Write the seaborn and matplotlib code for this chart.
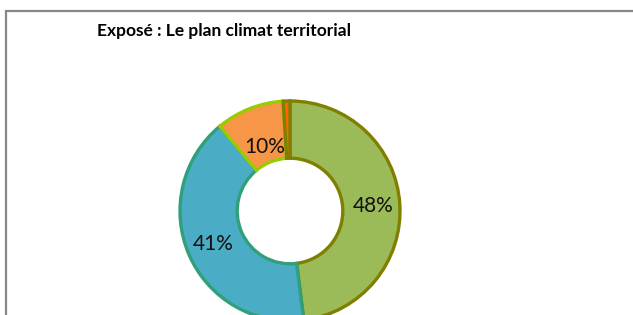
import matplotlib
matplotlib.use("Agg")
import matplotlib.pyplot as plt
from matplotlib.patches import Rectangle
import seaborn as sns

# Data
categories = ["A", "B", "C", "D"]
values = [48, 41, 10, 1]
fill_colors = ["#9BBB59", "#4BACC6", "#F79646", "#FF6600"]
edge_colors = ["#7F7F00", "#2FA07A", "#99CC00", "#7F7F00"]
title = "Exposé : Le plan climat territorial"

sns.set_theme(style="white")
plt.rcParams["font.family"] = ["Lato", "DejaVu Sans"]

W, H = 633, 315
fig = plt.figure(figsize=(W / 100, H / 100), dpi=100)
fig.patch.set_facecolor("white")

# chart area border (cropped at right/bottom)
fig.add_artist(Rectangle((6 / W, -0.2), 1.2, 1 - 11 / H + 0.2,
                         transform=fig.transFigure, fill=False,
                         edgecolor="#888888", linewidth=1.6))

cx, cy, R = 290, 211, 110
ax = fig.add_axes([(cx - R) / W, (H - cy - R) / H, 2 * R / W, 2 * R / H])

def fmt(p):
    return f"{p:.0f}%" if p >= 5 else ""

wedges, texts, autotexts = ax.pie(
    values, colors=fill_colors, startangle=90, counterclock=False,
    radius=1.0, autopct=fmt, pctdistance=0.76,
    wedgeprops=dict(width=0.52, linewidth=2.4),
    textprops=dict(fontsize=15, color="#111111"),
)
for w, ec in zip(wedges, edge_colors):
    w.set_edgecolor(ec)
# small slice label sits closer to hole in reference layout
x, y = autotexts[2].get_position()
autotexts[2].set_position((x * 0.82, y * 0.82))

ax.set_xlim(-1, 1)
ax.set_ylim(-1, 1)
ax.set_aspect("equal")
ax.axis("off")

fig.text(97 / W, 1 - 36 / H, title, fontsize=12.5, fontweight="bold",
         ha="left", va="baseline", color="#000000")

fig.savefig("out.png", dpi=100)
